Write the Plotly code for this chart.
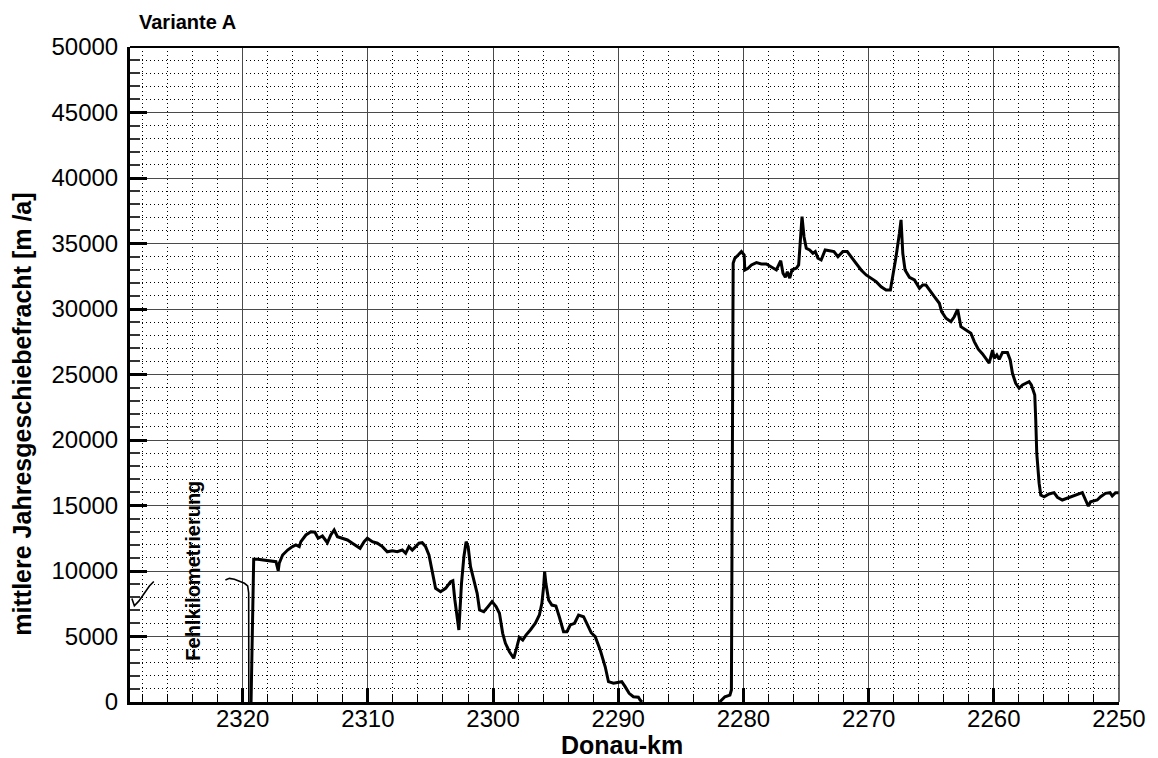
import plotly.graph_objects as go

# Donau-km (river kilometre) and mean annual bed-load transport [m³/a]
# Upstream reach with faulty kilometre assignment (thin line)
km_upper = [2328.85, 2328.65, 2328.30, 2327.90, 2327.45, 2327.10, None,
            2321.38, 2321.06, 2320.66, 2320.26, 2319.86, 2319.60, 2319.52, 2319.51]
load_upper = [7900, 7350, 7700, 8250, 8850, 9200, None,
              9310, 9440, 9370, 9240, 9060, 8860, 8320, 0]

# Main reach (None marks the stretch where the load is zero and lies on the axis)
km_main = [
    2319.33, 2319.12, 2318.80, 2318.27, 2317.74, 2317.34, 2317.16, 2317.08, 2316.81, 2316.41,
    2316.02, 2315.75, 2315.48, 2315.35, 2314.95, 2314.55, 2314.23, 2313.97, 2313.63, 2313.23,
    2312.96, 2312.69, 2312.43, 2312.03, 2311.63, 2311.24, 2310.84, 2310.62, 2310.30, 2310.04,
    2309.64, 2309.24, 2308.84, 2308.45, 2308.05, 2307.65, 2307.25, 2306.98, 2306.72, 2306.45,
    2306.18, 2305.92, 2305.66, 2305.39, 2305.12, 2304.86, 2304.59, 2304.19, 2303.79, 2303.39,
    2303.21, 2303.05, 2302.87, 2302.73, 2302.52, 2302.33, 2302.15, 2301.99, 2301.80, 2301.54,
    2301.27, 2301.08, 2300.74, 2300.40, 2300.08, 2299.76, 2299.49, 2299.23, 2299.01, 2298.69,
    2298.35, 2298.09, 2297.90, 2297.63, 2297.37, 2297.02, 2296.62, 2296.30, 2296.10, 2295.96,
    2295.88, 2295.78, 2295.56, 2295.30, 2294.98, 2294.71, 2294.37, 2294.10, 2293.83, 2293.49,
    2293.17, 2292.77, 2292.51, 2292.16, 2291.84, 2291.44, 2291.04, 2290.78, 2290.38, 2289.98,
    2289.72, 2289.45, 2289.13, 2288.79, 2288.39, 2288.25, 2288.10, None, 2281.90, 2281.75, 2281.48,
    2281.08, 2280.96, 2280.82, 2280.69, 2280.42, 2280.16, 2279.94, 2279.89, 2279.63, 2279.36,
    2278.96, 2278.57, 2278.17, 2277.77, 2277.37, 2277.18, 2277.02, 2276.84, 2276.65, 2276.49,
    2276.30, 2276.12, 2275.78, 2275.59, 2275.43, 2275.32, 2275.16, 2274.98, 2274.71, 2274.45,
    2274.26, 2274.05, 2273.79, 2273.47, 2273.12, 2272.77, 2272.45, 2272.06, 2271.71, 2271.39,
    2271.00, 2270.60, 2270.20, 2269.80, 2269.40, 2269.00, 2268.61, 2268.26, 2268.07, 2267.81,
    2267.54, 2267.41, 2267.27, 2267.09, 2266.74, 2266.34, 2265.94, 2265.68, 2265.42, 2265.15,
    2264.75, 2264.35, 2264.17, 2263.82, 2263.43, 2263.16, 2262.89, 2262.63, 2262.23, 2261.83,
    2261.56, 2261.24, 2260.90, 2260.64, 2260.37, 2260.10, 2259.97, 2259.76, 2259.57, 2259.31,
    2258.91, 2258.69, 2258.51, 2258.25, 2257.98, 2257.71, 2257.45, 2257.18, 2257.00, 2256.73,
    2256.65, 2256.57, 2256.38, 2256.25, 2255.98, 2255.59, 2255.19, 2254.92, 2254.53, 2254.13,
    2253.73, 2253.33, 2252.93, 2252.67, 2252.45, 2252.27, 2252.00, 2251.74, 2251.47, 2251.08,
    2250.72, 2250.54, 2250.28, 2250.00,
]
load_main = [
    0, 10890, 10890, 10840, 10760, 10710, 10020, 10590, 11220, 11600,
    11860, 11990, 11860, 12240, 12750, 13000, 12960, 12500, 12670, 12160,
    12750, 13130, 12620, 12500, 12370, 12120, 11860, 11730, 12240, 12500,
    12240, 12120, 11860, 11470, 11550, 11470, 11600, 11350, 11860, 11600,
    11860, 12120, 12160, 11860, 11220, 10080, 8680, 8420, 8680, 9180,
    9260, 7790, 6510, 5500, 9060, 11090, 12240, 11860, 10330, 9310,
    8300, 7020, 6890, 7280, 7660, 7280, 6770, 5240, 4480, 3840,
    3340, 4220, 4940, 4730, 5110, 5500, 6010, 6640, 7530, 8800,
    9950, 9060, 7790, 7400, 7330, 6510, 5370, 5370, 5880, 6010,
    6640, 6510, 6010, 5290, 4990, 3970, 2690, 1550, 1430, 1470,
    1550, 1170, 660, 400, 360, 150, 0, None, 0, 150, 400,
    530, 920, 33490, 33870, 34120, 34380, 34120, 32980, 33110, 33360,
    33540, 33440, 33440, 33180, 32980, 33360, 33690, 32730, 32420, 32850,
    32350, 32980, 33110, 33360, 35520, 37050, 35520, 34640, 34510, 34250,
    34380, 33870, 33740, 34510, 34450, 34380, 33990, 34380, 34380, 33990,
    33490, 32980, 32600, 32350, 32090, 31700, 31450, 31450, 32470, 33990,
    35780, 36800, 34250, 32980, 32420, 32220, 31580, 31830, 31830, 31450,
    30940, 30440, 29800, 29290, 29030, 29410, 29980, 28650, 28400, 28150,
    27510, 26930, 26570, 26240, 25860, 26870, 26240, 26490, 26160, 26670,
    26670, 26110, 25090, 24330, 23950, 24200, 24330, 24450, 24200, 23440,
    21530, 18990, 16700, 15800, 15670, 15880, 15980, 15630, 15420, 15550,
    15670, 15800, 15980, 15420, 14960, 15290, 15370, 15420, 15670, 15930,
    15980, 15730, 15980, 15980,
]

x_ticks = [2320, 2310, 2300, 2290, 2280, 2270, 2260, 2250]
y_ticks = [0, 5000, 10000, 15000, 20000, 25000, 30000, 35000, 40000, 45000, 50000]

FONT = "Liberation Sans, Arial, sans-serif"
MAJOR_GRID = "#4a4a4a"

fig = go.Figure()
fig.add_trace(go.Scatter(x=km_upper, y=load_upper, mode="lines",
                         line=dict(color="black", width=1.6), connectgaps=False,
                         hoverinfo="skip"))
fig.add_trace(go.Scatter(x=km_main, y=load_main, mode="lines",
                         line=dict(color="black", width=3), connectgaps=False,
                         hoverinfo="skip"))

fig.update_xaxes(
    range=[2329, 2250], tickmode="array", tickvals=x_ticks,
    ticktext=[str(v) for v in x_ticks],
    ticks="inside", ticklen=14, tickwidth=3, tickcolor="black",
    showline=True, linecolor="black", linewidth=3, mirror=False,
    showgrid=True, gridcolor=MAJOR_GRID, gridwidth=1.2,
    zeroline=False,
    tickfont=dict(family=FONT, size=24, color="black"),
    ticklabelstandoff=-7,
    minor=dict(dtick=2, tick0=2250, ticks="inside", ticklen=8, tickwidth=1,
               tickcolor="black", showgrid=True, gridcolor="black",
               gridwidth=1, griddash="1px,3px"),
)
fig.update_yaxes(
    range=[0, 50000], tickmode="array", tickvals=y_ticks,
    ticktext=[str(v) for v in y_ticks],
    ticks="inside", ticklen=17, tickwidth=3, tickcolor="black",
    showline=True, linecolor="black", linewidth=3, mirror=False,
    showgrid=True, gridcolor=MAJOR_GRID, gridwidth=1.2,
    zeroline=False,
    tickfont=dict(family=FONT, size=24, color="black"),
    ticklabelstandoff=4,
    minor=dict(dtick=1000, tick0=0, ticks="inside", ticklen=10, tickwidth=2,
               tickcolor="#333333", showgrid=True, gridcolor="black",
               gridwidth=1, griddash="1px,3px"),
)

# frame on the top and right sides
fig.add_shape(type="line", xref="paper", yref="paper", x0=0, x1=1, y0=1, y1=1,
              line=dict(color="black", width=2))
fig.add_shape(type="line", xref="paper", yref="paper", x0=1, x1=1, y0=0, y1=1,
              line=dict(color="#333333", width=1.5))

fig.add_annotation(text="<b>Variante A</b>", xref="paper", yref="paper",
                   x=0.007, y=1.038, xanchor="left", yanchor="middle",
                   showarrow=False, font=dict(family=FONT, size=20, color="black"))
fig.add_annotation(text="<b>mittlere Jahresgeschiebefracht [m /a]</b>",
                   xref="paper", yref="paper", x=-0.109, y=0.439,
                   xanchor="center", yanchor="middle", textangle=-90,
                   showarrow=False, font=dict(family=FONT, size=25, color="black"))
fig.add_annotation(text="<b>Donau-km</b>", xref="paper", yref="paper",
                   x=0.497, y=-0.066, xanchor="center", yanchor="middle",
                   showarrow=False, font=dict(family=FONT, size=25, color="black"))
fig.add_annotation(text="<b>Fehlkilometrierung</b>", xref="paper", yref="paper",
                   x=0.0634, y=0.2, xanchor="center", yanchor="middle", textangle=-90,
                   showarrow=False, font=dict(family=FONT, size=20, color="black"))

fig.update_layout(
    width=1158, height=758,
    margin=dict(l=130, r=35, t=47, b=56),
    paper_bgcolor="white", plot_bgcolor="white",
    showlegend=False,
)

fig.write_html("out.html")
